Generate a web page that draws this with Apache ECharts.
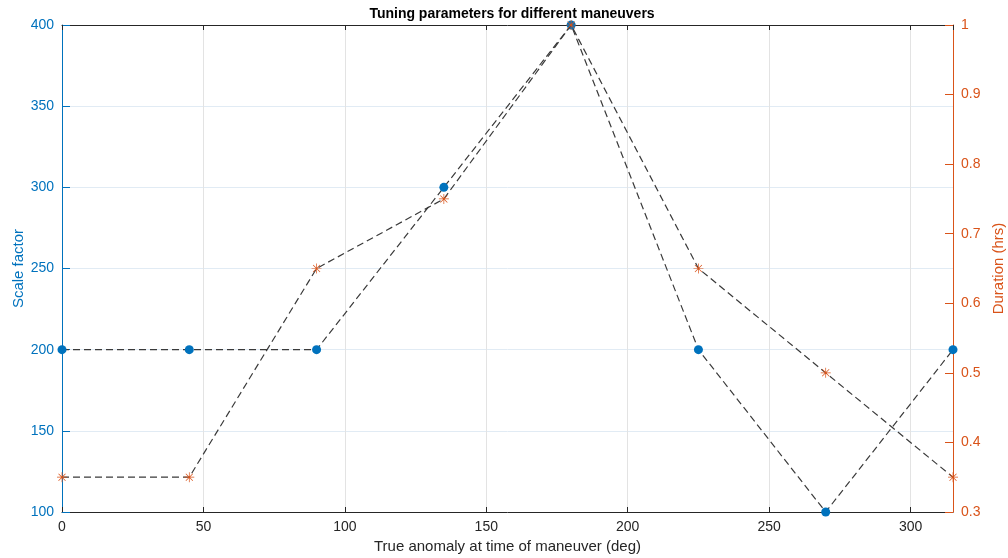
<!DOCTYPE html>
<html><head><meta charset="utf-8">
<script src="https://cdn.jsdelivr.net/npm/echarts@6/dist/echarts.min.js"></script>
<style>html,body{margin:0;padding:0;background:#fff}#c{width:1008px;height:558px}</style>
</head><body><div id="c"></div>
<script>
const anomaly = [0, 45, 90, 135, 180, 225, 270, 315];
const scaleFactor = [200, 200, 200, 300, 400, 200, 100, 200];
const duration = [0.35, 0.35, 0.65, 0.75, 1.0, 0.65, 0.5, 0.35];
const titleText = 'Tuning parameters for different maneuvers';
const xName = 'True anomaly at time of maneuver (deg)';
const yLeftName = 'Scale factor';
const yRightName = 'Duration (hrs)';

const blue = '#0072BD', orange = '#D95319';
const star = 'path://M0 9.3L20 9.3L20 10.7L0 10.7Z M9.3 0L10.7 0L10.7 20L9.3 20Z M2.5 3.5L3.5 2.5L17.5 16.5L16.5 17.5Z M16.5 2.5L17.5 3.5L3.5 17.5L2.5 16.5Z';
const font = 'Liberation Sans, Arial, sans-serif';

const chart = echarts.init(document.getElementById('c'));
chart.setOption({
  animation: false,
  title: { text: titleText, left: 507, top: 2, textAlign: 'center',
    textStyle: { fontFamily: font, fontSize: 14, fontWeight: 'bold', color: '#000' } },
  grid: { left: 62, right: 55, top: 25, bottom: 46, outerBoundsMode: 'none', containLabel: false },
  xAxis: [{
    type: 'value', min: 0, max: 315, interval: 50, position: 'bottom',
    name: xName, nameLocation: 'middle', nameGap: 27,
    nameTextStyle: { fontFamily: font, fontSize: 15, color: '#262626' },
    axisLine: { show: true, onZero: false, lineStyle: { color: '#262626', width: 1 } },
    axisTick: { show: true, inside: true, length: 5, lineStyle: { color: '#262626' } },
    axisLabel: { fontFamily: font, fontSize: 14, color: '#262626', margin: 8, showMaxLabel: false },
    splitLine: { show: true, lineStyle: { color: '#e3e3e3', width: 1 } }
  }, {
    type: 'value', min: 0, max: 315, interval: 50, position: 'top',
    axisLine: { show: true, onZero: false, lineStyle: { color: '#262626', width: 1 } },
    axisTick: { show: true, inside: true, length: 5, lineStyle: { color: '#262626' } },
    axisLabel: { show: false }, splitLine: { show: false }
  }],
  yAxis: [{
    type: 'value', min: 100, max: 400, interval: 50, position: 'left',
    name: yLeftName, nameLocation: 'middle', nameGap: 36, nameRotate: 90, nameMoveOverlap: false,
    nameTextStyle: { fontFamily: font, fontSize: 15, color: blue },
    axisLine: { show: true, onZero: false, lineStyle: { color: blue, width: 1 } },
    axisTick: { show: true, inside: true, length: 8, lineStyle: { color: blue } },
    axisLabel: { fontFamily: font, fontSize: 14, color: blue, margin: 8 },
    splitLine: { show: true, lineStyle: { color: '#e1ebf4', width: 1 } }
  }, {
    type: 'value', min: 0.3, max: 1.0, interval: 0.1, position: 'right',
    name: yRightName, nameLocation: 'middle', nameGap: 38, nameRotate: 90,
    nameTextStyle: { fontFamily: font, fontSize: 15, color: orange },
    axisLine: { show: true, onZero: false, lineStyle: { color: orange, width: 1 } },
    axisTick: { show: true, inside: true, length: 8, lineStyle: { color: orange } },
    axisLabel: { fontFamily: font, fontSize: 14, color: orange, margin: 8,
      formatter: v => (Math.round(v * 10) / 10).toString() },
    splitLine: { show: false }
  }],
  series: [{
    type: 'line', xAxisIndex: 0, yAxisIndex: 0,
    data: anomaly.map((x, i) => [x, scaleFactor[i]]),
    symbol: 'circle', symbolSize: 9,
    itemStyle: { color: blue },
    lineStyle: { color: '#3a3a3a', width: 1.2, type: [7, 4] },
    z: 3
  }, {
    type: 'line', xAxisIndex: 0, yAxisIndex: 1,
    data: anomaly.map((x, i) => [x, duration[i]]),
    symbol: star, symbolSize: 10,
    itemStyle: { color: orange },
    lineStyle: { color: '#3a3a3a', width: 1.2, type: [7, 4] },
    z: 4
  }]
});
</script></body></html>
